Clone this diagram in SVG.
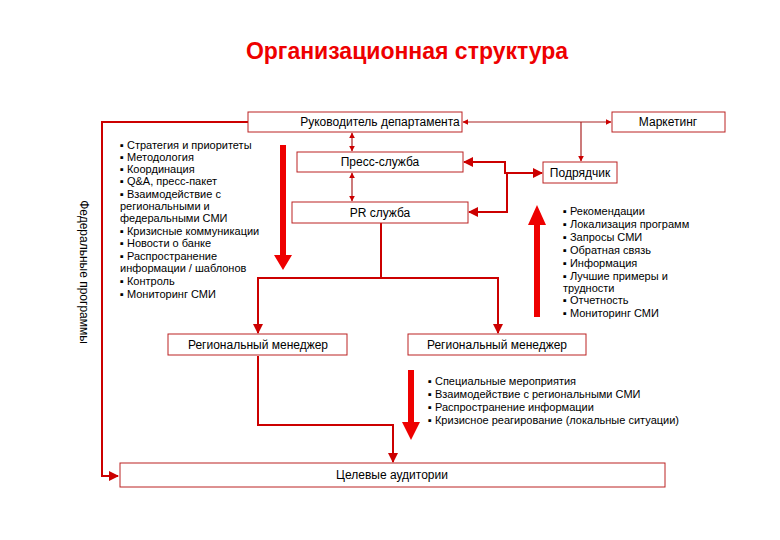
<svg xmlns="http://www.w3.org/2000/svg" width="780" height="540" viewBox="0 0 780 540">
<style>
.b{fill:#fff;stroke:#b22;stroke-width:1}
.t{font-family:"Liberation Sans",Arial,sans-serif;font-size:12px;fill:#000}
.s{font-size:11px}
.c{text-anchor:middle}
.l{fill:none;stroke:#c00;stroke-width:2}
.th{fill:none;stroke:#a22;stroke-width:1.2}
</style>
<defs>
<marker id="a" viewBox="0 0 10 10" refX="9" refY="5" markerWidth="5" markerHeight="5" orient="auto-start-reverse"><path d="M0,0L10,5L0,10z" fill="#c00"/></marker>
</defs>
<rect width="780" height="540" fill="#fff"/>
<text x="407" y="59" class="c" font-family="Liberation Sans,Arial,sans-serif" font-size="23" font-weight="bold" fill="#e00">Организационная структура</text>
<g id="connectors">
<path class="l" d="M248,122H102V476H118" marker-end="url(#a)"/>
<path class="th" d="M352,133V151" marker-start="url(#a)" marker-end="url(#a)"/>
<path class="th" d="M352,173V201" marker-start="url(#a)" marker-end="url(#a)"/>
<path class="th" d="M463,122H611" marker-start="url(#a)" marker-end="url(#a)"/>
<path class="th" d="M581,122V161" marker-end="url(#a)"/>
<path class="l" d="M542,173H505V162H464" marker-end="url(#a)"/>
<path class="l" d="M505,173H542" marker-end="url(#a)"/>
<path class="l" d="M507,173V212H469" marker-end="url(#a)"/>
<path class="l" d="M381,223V278H258V333" marker-end="url(#a)"/>
<path class="l" d="M381,278H498V333" marker-end="url(#a)"/>
<path class="l" d="M258,356V425H393V462" marker-end="url(#a)"/>
<path d="M280,145h6v110h6l-9,15l-9,-15h6z" fill="#e00"/>
<path d="M534,317h6v-92h6l-9,-20l-9,20h6z" fill="#e00"/>
<path d="M408,370h6v52h6l-9,18l-9,-18h6z" fill="#e00"/>
</g>
<g id="n1"><rect class="b" x="248" y="112" width="214" height="20"/><text class="t c" x="380" y="126">Руководитель департамента</text></g>
<g id="n2"><rect class="b" x="612" y="112" width="113" height="20"/><text class="t c" x="668" y="126">Маркетинг</text></g>
<g id="n3"><rect class="b" x="297" y="152" width="166" height="20"/><text class="t c" x="380" y="166">Пресс-служба</text></g>
<g id="n4"><rect class="b" x="292" y="202" width="176" height="21"/><text class="t c" x="380" y="217">PR служба</text></g>
<g id="n5"><rect class="b" x="543" y="162" width="74" height="21"/><text class="t c" x="580" y="177">Подрядчик</text></g>
<g id="n6"><rect class="b" x="168" y="334" width="179" height="21"/><text class="t c" x="258" y="349">Региональный менеджер</text></g>
<g id="n7"><rect class="b" x="408" y="334" width="178" height="21"/><text class="t c" x="497" y="349">Региональный менеджер</text></g>
<g id="n8"><rect class="b" x="120" y="463" width="545" height="24"/><text class="t c" x="392" y="479">Целевые аудитории</text></g>
<text class="t c" transform="translate(80,272) rotate(90)">Федеральные программы</text>
<text class="t s">
<tspan x="120" y="149">▪ Стратегия и приоритеты</tspan>
<tspan x="120" y="161">▪ Методология</tspan>
<tspan x="120" y="173">▪ Координация</tspan>
<tspan x="120" y="185">▪ Q&amp;A, пресс-пакет</tspan>
<tspan x="120" y="198">▪ Взаимодействие с</tspan>
<tspan x="120" y="210">региональными и</tspan>
<tspan x="120" y="222">федеральными СМИ</tspan>
<tspan x="120" y="235">▪ Кризисные коммуникации</tspan>
<tspan x="120" y="247">▪ Новости о банке</tspan>
<tspan x="120" y="260">▪ Распространение</tspan>
<tspan x="120" y="272">информации / шаблонов</tspan>
<tspan x="120" y="285">▪ Контроль</tspan>
<tspan x="120" y="298">▪ Мониторинг СМИ</tspan>
</text>
<text class="t s">
<tspan x="563" y="215">▪ Рекомендации</tspan>
<tspan x="563" y="228">▪ Локализация программ</tspan>
<tspan x="563" y="241">▪ Запросы СМИ</tspan>
<tspan x="563" y="254">▪ Обратная связь</tspan>
<tspan x="563" y="267">▪ Информация</tspan>
<tspan x="563" y="280">▪ Лучшие примеры и</tspan>
<tspan x="563" y="292">трудности</tspan>
<tspan x="563" y="304">▪ Отчетность</tspan>
<tspan x="563" y="317">▪ Мониторинг СМИ</tspan>
</text>
<text class="t s">
<tspan x="428" y="385">▪ Специальные мероприятия</tspan>
<tspan x="428" y="398">▪  Взаимодействие с региональными СМИ</tspan>
<tspan x="428" y="411">▪  Распространение информации</tspan>
<tspan x="428" y="424">▪  Кризисное реагирование (локальные ситуации)</tspan>
</text>
</svg>
